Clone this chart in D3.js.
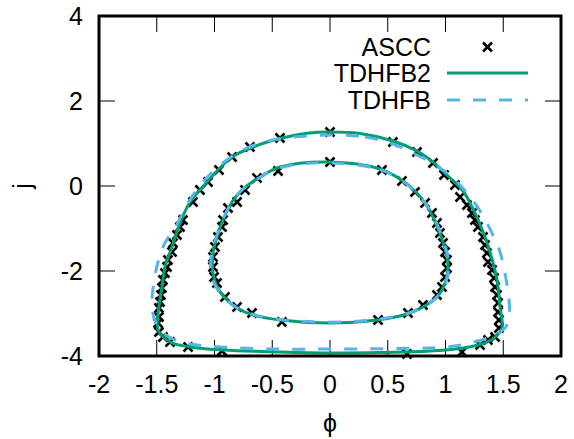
<!DOCTYPE html>
<html>
<head>
<meta charset="utf-8">
<script src="https://cdn.jsdelivr.net/npm/d3@7"></script>
<style>
  body { margin: 0; background: #fff; }
  svg { display: block; font-family: "Liberation Sans", Arial, sans-serif; }
</style>
</head>
<body>
<div id="chart"></div>
<script>
// tick values
const xTicks = [-2, -1.5, -1, -0.5, 0, 0.5, 1, 1.5, 2];
const yTicks = [-4, -2, 0, 2, 4];

// TDHFB2 orbits (phi, j), clockwise from the top
const tdhfb2Outer = [
  [0, 1.27], [0.26, 1.235], [0.545, 1.06], [0.753, 0.824], [0.892, 0.565], [1.022, 0.235],
  [1.152, -0.118], [1.238, -0.541], [1.316, -1.012], [1.385, -1.553], [1.446, -2.212],
  [1.472, -2.847], [1.489, -3.341], [1.429, -3.553], [1.359, -3.671], [1.152, -3.812],
  [0.866, -3.882], [0.433, -3.918], [0, -3.929], [-0.433, -3.906], [-0.926, -3.859],
  [-1.212, -3.788], [-1.385, -3.671], [-1.489, -3.388], [-1.481, -2.847], [-1.455, -2.376],
  [-1.429, -1.906], [-1.368, -1.435], [-1.299, -0.871], [-1.212, -0.376], [-1.143, -0.141],
  [-1.065, 0.094], [-0.97, 0.376], [-0.848, 0.682], [-0.667, 0.918], [-0.416, 1.129], [-0.2, 1.24]
];
const tdhfb2Inner = [
  [0, 0.565], [0.433, 0.4], [0.606, 0.165], [0.736, -0.118], [0.84, -0.471], [0.926, -0.941],
  [0.996, -1.482], [1.022, -1.882], [0.996, -2.282], [0.926, -2.612], [0.805, -2.847],
  [0.667, -3.012], [0.407, -3.153], [0, -3.224], [-0.433, -3.153], [-0.667, -3.035],
  [-0.805, -2.871], [-0.892, -2.682], [-0.978, -2.376], [-1.013, -2.047], [-1.013, -1.576],
  [-0.978, -1.2], [-0.926, -0.8], [-0.848, -0.376], [-0.762, -0.094], [-0.632, 0.165], [-0.433, 0.447]
];

// TDHFB orbits
const tdhfbOuter = [
  [0, 1.2], [0.303, 1.153], [0.545, 0.988], [0.753, 0.729], [0.926, 0.471], [1.065, 0.188],
  [1.186, -0.165], [1.299, -0.588], [1.394, -1.059], [1.472, -1.553], [1.524, -2.188],
  [1.55, -2.682], [1.55, -3.106], [1.515, -3.341], [1.385, -3.553], [1.212, -3.694],
  [1.013, -3.788], [0.606, -3.824], [0, -3.835], [-0.519, -3.835], [-0.952, -3.788],
  [-1.212, -3.718], [-1.359, -3.6], [-1.472, -3.388], [-1.524, -3.106], [-1.541, -2.682],
  [-1.524, -2.259], [-1.489, -1.788], [-1.429, -1.341], [-1.342, -0.988], [-1.229, -0.4],
  [-1.108, 0.071], [-0.97, 0.447], [-0.805, 0.776], [-0.606, 1.012], [-0.346, 1.141]
];
const tdhfbInner = [
  [0, 0.545], [0.433, 0.385], [0.606, 0.15], [0.736, -0.13], [0.845, -0.48], [0.935, -0.95],
  [1.005, -1.49], [1.03, -1.89], [1.0, -2.28], [0.93, -2.6], [0.81, -2.83],
  [0.67, -3.0], [0.41, -3.14], [0, -3.205], [-0.433, -3.14], [-0.667, -3.02],
  [-0.81, -2.86], [-0.9, -2.67], [-0.99, -2.36], [-1.03, -2.04], [-1.025, -1.58],
  [-0.985, -1.2], [-0.93, -0.8], [-0.85, -0.38], [-0.765, -0.1], [-0.635, 0.155], [-0.433, 0.43]
];

// ASCC points
const asccPoints = [
  [0, 1.271], [-0.433, 1.129], [-0.693, 0.918], [-0.848, 0.682], [-0.961, 0.376], [-1.056, 0.094],
  [-1.126, -0.094], [-1.186, -0.376], [-1.273, -0.8], [-1.299, -0.965], [-1.325, -1.153],
  [-1.359, -1.341], [-1.368, -1.553], [-1.403, -1.741], [-1.411, -1.906], [-1.429, -2.047],
  [-1.446, -2.212], [-1.455, -2.4], [-1.463, -2.565], [-1.472, -2.729], [-1.481, -2.871],
  [-1.481, -3.082], [-1.489, -3.224], [-1.481, -3.435], [-1.446, -3.553], [-1.385, -3.671],
  [-1.229, -3.788], [-0.935, -3.882], [0.667, -3.953], [1.143, -3.906], [1.299, -3.741],
  [1.368, -3.624], [1.429, -3.553], [1.463, -3.341], [1.463, -3.153], [1.455, -2.965],
  [1.455, -2.753], [1.446, -2.565], [1.429, -2.376], [1.42, -2.165], [1.403, -1.976],
  [1.368, -1.788], [1.359, -1.576], [1.342, -1.388], [1.325, -1.2], [1.281, -0.965],
  [1.255, -0.8], [1.229, -0.635], [1.186, -0.447], [1.126, -0.259], [1.082, 0.024],
  [0.987, 0.259], [0.892, 0.541], [0.753, 0.8], [0.545, 1.035],
  [0, 0.565], [0.45, 0.376], [0.623, 0.118], [0.736, -0.141], [0.823, -0.4], [0.883, -0.635],
  [0.926, -0.871], [0.952, -1.106], [0.978, -1.341], [0.996, -1.553], [1.013, -1.741],
  [1.013, -1.929], [0.996, -2.141], [0.97, -2.376], [0.926, -2.565], [0.805, -2.8],
  [0.675, -2.988], [0.416, -3.153], [-0.416, -3.2], [-0.675, -2.988], [-0.805, -2.847],
  [-0.909, -2.612], [-0.978, -2.282], [-1.004, -2.141], [-1.013, -1.906], [-1.013, -1.671],
  [-0.996, -1.435], [-0.97, -1.2], [-0.935, -0.965], [-0.926, -0.8], [-0.883, -0.518],
  [-0.805, -0.376], [-0.736, -0.094], [-0.632, 0.188], [-0.45, 0.353]
];

const legendNames = ["ASCC", "TDHFB2", "TDHFB"];
const green = "#009e73";
const blue = "#56b4e9";

const W = 574, H = 439;
const margin = { top: 16, right: 13, bottom: 83, left: 99 };
const width = W - margin.left - margin.right;
const height = H - margin.top - margin.bottom;

const svg = d3.select("#chart").append("svg")
  .attr("width", W)
  .attr("height", H);

const g = svg.append("g")
  .attr("transform", `translate(${margin.left},${margin.top})`);

const x = d3.scaleLinear().domain([-2, 2]).range([0, width]);
const y = d3.scaleLinear().domain([-4, 4]).range([height, 0]);

// ticks (inward, mirrored)
const tickLen = 16;
const tickG = g.append("g").attr("stroke", "#000").attr("stroke-width", 1);
xTicks.forEach(t => {
  tickG.append("line").attr("x1", x(t)).attr("x2", x(t)).attr("y1", height).attr("y2", height - tickLen);
  tickG.append("line").attr("x1", x(t)).attr("x2", x(t)).attr("y1", 0).attr("y2", tickLen);
});
yTicks.forEach(t => {
  tickG.append("line").attr("x1", 0).attr("x2", tickLen).attr("y1", y(t)).attr("y2", y(t));
  tickG.append("line").attr("x1", width).attr("x2", width - tickLen).attr("y1", y(t)).attr("y2", y(t));
});

// tick labels
g.selectAll("text.xt").data(xTicks).enter().append("text")
  .attr("class", "xt")
  .attr("x", d => x(d))
  .attr("y", height + 37)
  .attr("text-anchor", "middle")
  .style("font-size", "25px")
  .text(d => d);

g.selectAll("text.yt").data(yTicks).enter().append("text")
  .attr("class", "yt")
  .attr("x", -16)
  .attr("y", d => y(d) + 9)
  .attr("text-anchor", "end")
  .style("font-size", "25px")
  .text(d => d);

// axis labels
svg.append("text")
  .attr("x", margin.left + x(0))
  .attr("y", 432)
  .attr("text-anchor", "middle")
  .style("font-size", "25px")
  .text("ϕ");

svg.append("text")
  .attr("transform", `translate(31,${margin.top + y(0)}) rotate(-90)`)
  .attr("text-anchor", "middle")
  .style("font-size", "25px")
  .text("j");

// curves
const line = d3.line()
  .x(d => x(d[0]))
  .y(d => y(d[1]))
  .curve(d3.curveCatmullRomClosed.alpha(0.5));

const cross = d => `M${x(d[0]) - 4.5},${y(d[1]) - 4.5}L${x(d[0]) + 4.5},${y(d[1]) + 4.5}M${x(d[0]) - 4.5},${y(d[1]) + 4.5}L${x(d[0]) + 4.5},${y(d[1]) - 4.5}`;

g.append("g").selectAll("path").data(asccPoints).enter().append("path")
  .attr("d", cross)
  .attr("stroke", "#000")
  .attr("stroke-width", 2.6);

[tdhfb2Outer, tdhfb2Inner].forEach(c => {
  g.append("path").attr("d", line(c))
    .attr("fill", "none").attr("stroke", green).attr("stroke-width", 3);
});
[tdhfbOuter, tdhfbInner].forEach(c => {
  g.append("path").attr("d", line(c))
    .attr("fill", "none").attr("stroke", blue).attr("stroke-width", 3)
    .attr("stroke-dasharray", "13,13");
});

// legend
const legX = 431 - margin.left;
const legY = [47, 73, 100].map(v => v - margin.top);
legendNames.forEach((name, i) => {
  g.append("text")
    .attr("x", legX)
    .attr("y", legY[i] + 9)
    .attr("text-anchor", "end")
    .style("font-size", "25px")
    .text(name);
});
const sx0 = 447 - margin.left, sx1 = 528 - margin.left;
g.append("path")
  .attr("d", cross([x.invert((sx0 + sx1) / 2), y.invert(legY[0])]))
  .attr("stroke", "#000").attr("stroke-width", 2.6);
g.append("line").attr("x1", sx0).attr("x2", sx1).attr("y1", legY[1]).attr("y2", legY[1])
  .attr("stroke", green).attr("stroke-width", 3);
g.append("line").attr("x1", sx0).attr("x2", sx1).attr("y1", legY[2]).attr("y2", legY[2])
  .attr("stroke", blue).attr("stroke-width", 3).attr("stroke-dasharray", "13,13");

// border
g.append("rect")
  .attr("width", width).attr("height", height)
  .attr("fill", "none").attr("stroke", "#000").attr("stroke-width", 3);
</script>
</body>
</html>
